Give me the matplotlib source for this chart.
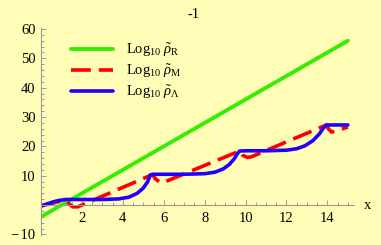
import matplotlib.pyplot as plt
from matplotlib.ticker import FixedLocator

plt.rcParams['mathtext.fontset'] = 'custom'
plt.rcParams['mathtext.rm'] = 'Liberation Serif'
plt.rcParams['mathtext.it'] = 'Liberation Serif:italic'

# values
x_R = [0, 15]
y_R = [-4, 56]

x_M = [0, 0.6, 1.15, 1.35, 1.55, 1.8, 5.45, 5.6, 5.85, 6.05,
       9.7, 9.85, 10.1, 10.3, 13.95, 14.05, 14.2, 14.4, 15]
y_M = [-0.3, 0.7, 1.7, 0.6, -0.6, -0.6, 10.4, 8.9, 7.6, 7.9,
       18.4, 17.0, 16.2, 16.5, 27.3, 26.0, 24.9, 25.2, 26.6]

x_L = [0, 0.3, 0.6, 0.9, 1.2, 2, 3, 3.8, 4.3, 4.7, 5.0, 5.2, 5.35, 5.5,
       6, 7, 8, 8.5, 8.9, 9.2, 9.45, 9.6, 9.7, 10, 11, 12, 12.5, 12.9,
       13.3, 13.6, 13.8, 13.95, 14.5, 15]
y_L = [-0.3, 0.4, 1.1, 1.6, 1.9, 1.9, 1.9, 2.1, 2.7, 4.0, 5.8, 7.8, 10.3, 10.5,
       10.5, 10.5, 10.7, 11.2, 12.3, 13.8, 15.8, 17.5, 18.4, 18.5, 18.5, 18.7, 19.2, 20.2,
       22.0, 24.2, 26.2, 27.3, 27.3, 27.3]

x_ticks = [2, 4, 6, 8, 10, 12, 14]
y_ticks = [-10, 10, 20, 30, 40, 50, 60]
y_tick_labels = ['\u2212\u200a10', '10', '20', '30', '40', '50', '60']

labels = [r'$\mathrm{Log}_{10}\ \tilde{\rho}_{\mathrm{R}}$',
          r'$\mathrm{Log}_{10}\ \tilde{\rho}_{\mathrm{M}}$',
          r'$\mathrm{Log}_{10}\ \tilde{\rho}_{\Lambda}$']

bg = '#FFFDB6'
fig = plt.figure(figsize=(3.81, 2.45), dpi=100, facecolor=bg)
ax = fig.add_axes([0.1076, 0.0396, 0.8215, 0.848])
ax.set_facecolor(bg)

ax.plot(x_R, y_R, color='#33EE00', lw=2.8, solid_capstyle='round', label=labels[0])
ax.plot(x_M, y_M, color='#FF0000', lw=2.6, dashes=(5.5, 2.2), label=labels[1])
ax.plot(x_L, y_L, color='#2200FF', lw=2.6, solid_capstyle='round', label=labels[2])

ax.set_xlim(0, 15.3)
ax.set_ylim(-10.3, 60.5)

for s in ['top', 'right']:
    ax.spines[s].set_visible(False)
ax.spines['left'].set_position(('data', 0))
ax.spines['bottom'].set_position(('data', 0))
for s in ['left', 'bottom']:
    ax.spines[s].set_color('#999999')
    ax.spines[s].set_linewidth(0.8)

ax.xaxis.set_major_locator(FixedLocator(x_ticks))
ax.xaxis.set_minor_locator(FixedLocator([v / 2 for v in range(1, 31) if v % 4]))
ax.yaxis.set_major_locator(FixedLocator(y_ticks))
ax.yaxis.set_minor_locator(FixedLocator([v for v in range(-10, 61, 2) if v % 10]))
ax.set_yticklabels(y_tick_labels)

ax.tick_params(which='both', direction='in', color='#999999', width=0.7)
ax.tick_params(which='major', length=3.5, labelsize=10.5, pad=4)
ax.tick_params(which='minor', length=2)
ax.tick_params(axis='x', pad=5)
for t in ax.get_xticklabels() + ax.get_yticklabels():
    t.set_family('Liberation Serif')

ax.text(15.95, -0.3, 'x', ha='center', va='center', fontsize=10.5, family='Liberation Serif')
fig.text(0.507, 0.94, '-1', ha='center', va='center', fontsize=10.5, family='Liberation Serif')

leg = ax.legend(loc='upper left', bbox_to_anchor=(0.096, 0.935), frameon=False,
                borderpad=0, borderaxespad=0,
                fontsize=10.5, handlelength=2.9, handletextpad=0.85, labelspacing=0.25)

fig.savefig('out.png', dpi=100, facecolor=bg)
